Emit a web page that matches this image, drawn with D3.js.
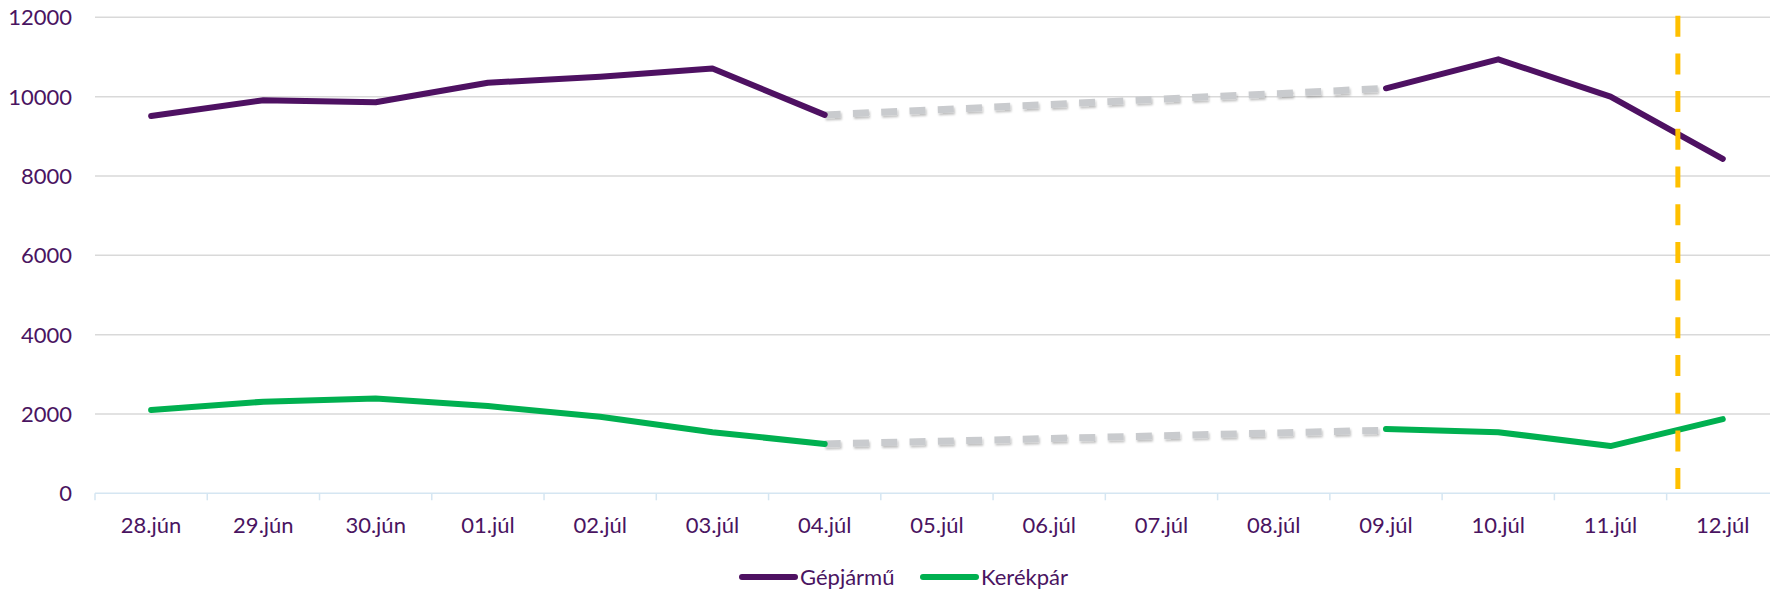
<!DOCTYPE html>
<html>
<head>
<meta charset="utf-8">
<script src="https://cdn.jsdelivr.net/npm/d3@7"></script>
<style>
    body { margin: 0; background: #fff; }
    text { font-family: Lato, "Noto Sans", sans-serif; fill: #4a1461; }
</style>
</head>
<body>
<script>
// du lieu doc tu hinh
const days = ['28.jún', '29.jún', '30.jún', '01.júl', '02.júl', '03.júl', '04.júl', '05.júl',
    '06.júl', '07.júl', '08.júl', '09.júl', '10.júl', '11.júl', '12.júl']
const gepjarmu = [9510, 9910, 9860, 10350, 10500, 10710, 9540, null, null, null, null, 10210, 10940, 10000, 8430]
const kerekpar = [2100, 2310, 2390, 2200, 1930, 1540, 1245, null, null, null, null, 1620, 1540, 1190, 1870]
// ước tính cho các ngày thiếu (đường xám nét đứt)
const gepjarmuEst = [null, null, null, null, null, null, 9540, 9670, 9800, 9940, 10070, 10210, null, null, null]
const kerekparEst = [null, null, null, null, null, null, 1245, 1310, 1380, 1450, 1520, 1590, null, null, null]
const yTicks = [0, 2000, 4000, 6000, 8000, 10000, 12000]
const markerAt = 13.6   // vi tri duong vang (theo chi so ngay)
const seriesNames = ['Gépjármű', 'Kerékpár']

const W = 1770, H = 590
const mLeft = 95, mTop = 17.3, plotH = 476
const band = 112.26

const svg = d3.select('body').append('svg').attr('width', W).attr('height', H)

const x = d3.scaleLinear().domain([-0.5, days.length - 0.5]).range([mLeft, mLeft + band * days.length])
const y = d3.scaleLinear().domain([0, 12000]).range([mTop + plotH, mTop])

// bong cho net dut xam
const defs = svg.append('defs')
const f = defs.append('filter').attr('id', 'shadow').attr('x', '-5%').attr('y', '-50%').attr('width', '110%').attr('height', '200%')
f.append('feDropShadow').attr('dx', 1).attr('dy', 2).attr('stdDeviation', 1.2)
    .attr('flood-color', '#000').attr('flood-opacity', 0.25)

// luoi ngang
svg.append('g').selectAll('line').data(yTicks.filter(d => d > 0)).join('line')
    .attr('x1', x.range()[0]).attr('x2', x.range()[1])
    .attr('y1', d => y(d)).attr('y2', d => y(d))
    .attr('stroke', '#d9d9d9').attr('stroke-width', 1.5)

// truc y
svg.append('g').selectAll('text').data(yTicks).join('text')
    .attr('x', 72).attr('y', d => y(d) + 8)
    .attr('text-anchor', 'end').style('font-size', '22px')
    .text(d => d)

// truc x
const xAxis = svg.append('g')
xAxis.append('line')
    .attr('x1', x.range()[0]).attr('x2', x.range()[1])
    .attr('y1', y(0)).attr('y2', y(0))
    .attr('stroke', '#d5e6f2').attr('stroke-width', 1.5)
xAxis.selectAll('line.tick').data(d3.range(days.length + 1)).join('line')
    .attr('class', 'tick')
    .attr('x1', d => x(d - 0.5)).attr('x2', d => x(d - 0.5))
    .attr('y1', y(0)).attr('y2', y(0) + 7)
    .attr('stroke', '#d5e6f2').attr('stroke-width', 1.5)
xAxis.selectAll('text').data(days).join('text')
    .attr('x', (d, i) => x(i)).attr('y', y(0) + 40)
    .attr('text-anchor', 'middle').style('font-size', '22px')
    .text(d => d)

const line = d3.line()
    .defined(d => d !== null)
    .x((d, i) => x(i))
    .y(d => y(d))

// duong uoc tinh mau xam
const est = [gepjarmuEst, kerekparEst]
svg.append('g').selectAll('path').data(est).join('path')
    .attr('d', d => line(d))
    .attr('fill', 'none')
    .attr('stroke', '#c9cbce')
    .attr('stroke-width', 7)
    .attr('stroke-dasharray', '16 12.3')
    .attr('filter', 'url(#shadow)')

const colors = ['#4e1162', '#00b050']
const series = [gepjarmu, kerekpar]
svg.append('g').selectAll('path').data(series).join('path')
    .attr('d', d => line(d))
    .attr('fill', 'none')
    .attr('stroke', (d, i) => colors[i])
    .attr('stroke-width', 6)
    .attr('stroke-linecap', 'round')
    .attr('stroke-linejoin', 'round')

// duong vang
svg.append('line')
    .attr('x1', x(markerAt)).attr('x2', x(markerAt))
    .attr('y1', y(12000) - 1.6).attr('y2', y(0))
    .attr('stroke', '#ffc000').attr('stroke-width', 5)
    .attr('stroke-dasharray', '21 16.7')

// chu giai
const legend = svg.append('g')
let lx = [742, 923]
seriesNames.forEach((name, i) => {
    legend.append('line')
        .attr('x1', lx[i]).attr('x2', lx[i] + 53)
        .attr('y1', 577).attr('y2', 577)
        .attr('stroke', colors[i]).attr('stroke-width', 6).attr('stroke-linecap', 'round')
    legend.append('text')
        .attr('x', lx[i] + 58).attr('y', 585)
        .style('font-size', '22px')
        .text(name)
})
</script>
</body>
</html>
